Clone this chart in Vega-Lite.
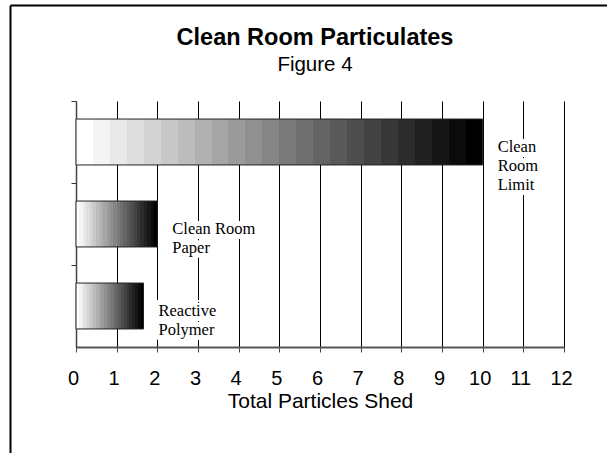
{
  "$schema": "https://vega.github.io/schema/vega-lite/v6.json",
  "width": 488,
  "height": 246,
  "autosize": {"type": "none"},
  "padding": {"left": 76, "top": 101, "right": 43, "bottom": 106},
  "background": "white",
  "title": {
    "text": "Clean Room Particulates",
    "subtitle": "Figure 4",
    "font": "Liberation Sans",
    "fontSize": 23.5,
    "fontWeight": "bold",
    "color": "black",
    "subtitleFont": "Liberation Sans",
    "subtitleFontSize": 20.5,
    "subtitleColor": "black",
    "subtitlePadding": 5,
    "anchor": "middle",
    "offset": -73,
    "dx": -5
  },
  "config": {"view": {"stroke": null}, "text": {"lineBreak": "\n"}},
  "data": {
    "values": [
      {"item": "Clean Room Limit", "particles": 10, "label": "Clean\nRoom\nLimit"},
      {"item": "Clean Room Paper", "particles": 2, "label": "Clean Room\nPaper"},
      {"item": "Reactive Polymer", "particles": 1.66, "label": "Reactive\nPolymer"}
    ]
  },
  "resolve": {
    "scale": {"x": "independent", "y": "independent"},
    "axis": {"x": "independent", "y": "independent"}
  },
  "layer": [
    {
      "layer": [
        {
          "mark": {
            "type": "bar",
            "height": {"band": 0.56},
            "stroke": "#222",
            "strokeWidth": 1,
            "fill": {
              "gradient": "linear",
              "x1": 0, "y1": 0, "x2": 1, "y2": 0,
              "stops": [
                {"offset": 0, "color": "#ffffff"}, {"offset": 0.041667, "color": "#ffffff"},
                {"offset": 0.041667, "color": "#f4f4f4"}, {"offset": 0.083333, "color": "#f4f4f4"},
                {"offset": 0.083333, "color": "#e9e9e9"}, {"offset": 0.125, "color": "#e9e9e9"},
                {"offset": 0.125, "color": "#dedede"}, {"offset": 0.166667, "color": "#dedede"},
                {"offset": 0.166667, "color": "#d3d3d3"}, {"offset": 0.208333, "color": "#d3d3d3"},
                {"offset": 0.208333, "color": "#c8c8c8"}, {"offset": 0.25, "color": "#c8c8c8"},
                {"offset": 0.25, "color": "#bcbcbc"}, {"offset": 0.291667, "color": "#bcbcbc"},
                {"offset": 0.291667, "color": "#b1b1b1"}, {"offset": 0.333333, "color": "#b1b1b1"},
                {"offset": 0.333333, "color": "#a6a6a6"}, {"offset": 0.375, "color": "#a6a6a6"},
                {"offset": 0.375, "color": "#9b9b9b"}, {"offset": 0.416667, "color": "#9b9b9b"},
                {"offset": 0.416667, "color": "#909090"}, {"offset": 0.458333, "color": "#909090"},
                {"offset": 0.458333, "color": "#858585"}, {"offset": 0.5, "color": "#858585"},
                {"offset": 0.5, "color": "#7a7a7a"}, {"offset": 0.541667, "color": "#7a7a7a"},
                {"offset": 0.541667, "color": "#6f6f6f"}, {"offset": 0.583333, "color": "#6f6f6f"},
                {"offset": 0.583333, "color": "#646464"}, {"offset": 0.625, "color": "#646464"},
                {"offset": 0.625, "color": "#595959"}, {"offset": 0.666667, "color": "#595959"},
                {"offset": 0.666667, "color": "#4e4e4e"}, {"offset": 0.708333, "color": "#4e4e4e"},
                {"offset": 0.708333, "color": "#434343"}, {"offset": 0.75, "color": "#434343"},
                {"offset": 0.75, "color": "#373737"}, {"offset": 0.791667, "color": "#373737"},
                {"offset": 0.791667, "color": "#2c2c2c"}, {"offset": 0.833333, "color": "#2c2c2c"},
                {"offset": 0.833333, "color": "#212121"}, {"offset": 0.875, "color": "#212121"},
                {"offset": 0.875, "color": "#161616"}, {"offset": 0.916667, "color": "#161616"},
                {"offset": 0.916667, "color": "#0b0b0b"}, {"offset": 0.958333, "color": "#0b0b0b"},
                {"offset": 0.958333, "color": "#000000"}, {"offset": 1, "color": "#000000"}
              ]
            }
          },
          "encoding": {
            "x": {
              "field": "particles",
              "type": "quantitative",
              "scale": {"domain": [0, 12], "nice": false, "zero": true},
              "axis": {
                "orient": "bottom",
                "values": [0, 0.5, 1, 1.5, 2, 2.5, 3, 3.5, 4, 4.5, 5, 5.5, 6, 6.5, 7, 7.5, 8, 8.5, 9, 9.5, 10, 10.5, 11, 11.5, 12],
                "labelExpr": "datum.value % 1 === 0 ? format(datum.value, 'd') : ''",
                "labelFlush": false,
                "labelOverlap": false,
                "labelFont": "Liberation Sans",
                "labelFontSize": 20,
                "labelColor": "black",
                "labelPadding": 16,
                "labelOffset": -3,
                "tickSize": {"condition": {"test": "datum.value % 1 !== 0", "value": 3}, "value": 5},
                "tickColor": "#444",
                "tickWidth": 1,
                "domainColor": "#555",
                "domainWidth": 2,
                "grid": true,
                "gridColor": "black",
                "gridWidth": 1,
                "gridOpacity": {"condition": {"test": "datum.value % 1 !== 0", "value": 0}, "value": 1},
                "title": "Total Particles Shed",
                "titleFont": "Liberation Sans",
                "titleFontSize": 21,
                "titleFontWeight": "normal",
                "titleColor": "black",
                "titlePadding": 2
              }
            },
            "y": {
              "field": "item",
              "type": "nominal",
              "sort": null,
              "scale": {"paddingInner": 0, "paddingOuter": 0},
              "axis": {
                "orient": "left",
                "bandPosition": 0,
                "labels": false,
                "title": null,
                "grid": false,
                "ticks": true,
                "tickSize": 5,
                "tickColor": "#333",
                "domain": true,
                "domainColor": "#444",
                "domainWidth": 1.5
              }
            }
          }
        },
        {
          "mark": {
            "type": "text",
            "align": "left",
            "baseline": "top",
            "dx": 15,
            "dy": -3,
            "font": "Liberation Serif",
            "fontSize": 16.5,
            "lineHeight": 19,
            "color": "white",
            "stroke": "white",
            "strokeWidth": 10,
            "strokeJoin": "round"
          },
          "encoding": {
            "x": {"field": "particles", "type": "quantitative"},
            "y": {"field": "item", "type": "nominal", "sort": null},
            "text": {"field": "label"}
          }
        },
        {
          "mark": {
            "type": "text",
            "align": "left",
            "baseline": "top",
            "dx": 15,
            "dy": -3,
            "font": "Liberation Serif",
            "fontSize": 16.5,
            "lineHeight": 19,
            "color": "black"
          },
          "encoding": {
            "x": {"field": "particles", "type": "quantitative"},
            "y": {"field": "item", "type": "nominal", "sort": null},
            "text": {"field": "label"}
          }
        }
      ]
    },
    {
      "mark": {"type": "point", "opacity": 0},
      "encoding": {
        "x": {
          "datum": 0,
          "type": "quantitative",
          "scale": {"domain": [0, 1], "range": [-66, 531], "nice": false, "zero": false},
          "axis": {"orient": "top", "offset": 96, "domain": true, "domainColor": "black", "domainWidth": 2, "ticks": false, "labels": false, "grid": false, "title": null}
        },
        "y": {
          "datum": 0,
          "type": "quantitative",
          "scale": {"domain": [0, 1], "range": [-96, 352], "nice": false, "zero": false},
          "axis": {"orient": "left", "offset": 66, "domain": true, "domainColor": "black", "domainWidth": 2, "ticks": false, "labels": false, "grid": false, "title": null}
        }
      }
    }
  ]
}
